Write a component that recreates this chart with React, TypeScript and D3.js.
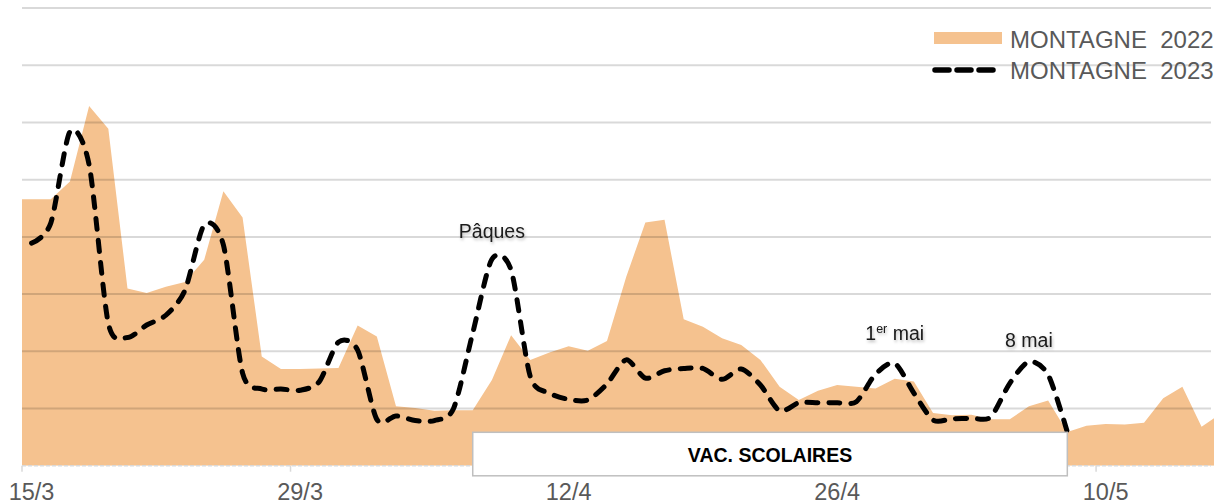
// App.tsx > MontagneChart

// react
import React, { useEffect, useRef } from 'react';

// modules
import * as d3 from 'd3';

// data
const montagne2022 = [
    46.6, 46.6, 49.7, 62.9, 58.9, 31.0, 30.2, 31.3, 32.1, 36.0,
    48.0, 43.4, 19.1, 16.9, 16.9, 17.0, 17.1, 24.5, 22.6, 10.4,
    10.1, 9.6, 9.7, 9.7, 15.0, 22.8, 18.5, 19.8, 20.9, 20.1,
    21.8, 33.0, 42.5, 43.0, 25.6, 24.3, 22.3, 21.1, 18.5, 13.8,
    11.5, 13.1, 14.1, 13.8, 13.5, 15.2, 14.7, 9.2, 8.8, 8.9,
    8.1, 8.1, 10.4, 11.4, 5.9, 7.0, 7.3, 7.2, 7.5, 11.8,
    13.8, 6.8, 9.1,
];
const montagne2023 = [
    38.9, 42.4, 58.4, 52.6, 24.9, 22.4, 24.6, 26.3, 30.7, 42.1,
    38.6, 16.2, 13.4, 13.4, 13.2, 14.7, 21.6, 20.2, 8.1, 8.7,
    7.9, 7.9, 10.0, 23.2, 36.1, 34.2, 15.6, 12.7, 11.6, 11.5,
    14.3, 18.5, 15.3, 16.6, 17.0, 17.0, 15.1, 16.9, 14.1, 9.6,
    11.0, 11.0, 11.0, 11.2, 16.0, 17.9, 12.7, 8.0, 8.2, 8.3,
    8.5, 14.4, 18.2, 15.9, 5.9,
];
const tickLabels = ['15/3', '29/3', '12/4', '26/4', '10/5'];
const gridValues = [10, 20, 30, 40, 50, 60, 70, 80];
const legendLabels = ['MONTAGNE  2022', 'MONTAGNE  2023'];
const vacation = { start: '7/4', end: '8/5', label: 'VAC. SCOLAIRES' };
const notes = [
    { day: '8/4', main: 'Pâques', sup: '', rest: '', dy: -21 },
    { day: '29/4', main: '1', sup: 'er', rest: ' mai', dy: -23 },
    { day: '6/5', main: '8 mai', sup: '', rest: '', dy: -15 },
];

// categories (one per day)
const fmt = d3.timeFormat('%-d/%-m');
const days = d3.timeDay.range(new Date(2023, 2, 15), new Date(2023, 4, 17)).map((d) => fmt(d));

const font = '"Liberation Sans", Arial, sans-serif';

export default function App() {
    const ref = useRef<SVGSVGElement | null>(null);

    const svgWidth = 1214;
    const svgHeight = 503;
    const left = 22;
    const right = 1211;
    const baseY = 465.7;
    const topY = 8.1;

    useEffect(() => {
        const svg = d3.select(ref.current);
        svg.selectAll('*').remove();

        const xScale = d3.scaleBand<string>()
            .domain(days)
            .range([left, left + 19.18 * days.length])
            .padding(0);
        const cx = (d: string) => (xScale(d) as number) + xScale.bandwidth() / 2;
        const yScale = d3.scaleLinear().domain([0, 80]).range([baseY, topY]);

        const defs = svg.append('defs');
        defs.append('clipPath').attr('id', 'plotClip')
            .append('rect')
            .attr('x', left).attr('y', 0)
            .attr('width', svgWidth - left).attr('height', baseY);
        const shadow = defs.append('filter').attr('id', 'txtShadow')
            .attr('x', '-20%').attr('y', '-40%').attr('width', '140%').attr('height', '180%');
        shadow.append('feDropShadow')
            .attr('dx', 1).attr('dy', 2).attr('stdDeviation', 1.8)
            .attr('flood-color', '#000').attr('flood-opacity', 0.28);

        // area 2022 (stretched to the plot edges)
        const areaPts: [number, number][] = [
            [left, montagne2022[0]],
            ...montagne2022.map((v, i) => [cx(days[i]), v] as [number, number]),
        ];
        const area = d3.area<[number, number]>()
            .x((d) => d[0])
            .y0(baseY)
            .y1((d) => yScale(d[1]));
        svg.append('path')
            .attr('clip-path', 'url(#plotClip)')
            .attr('d', area(areaPts))
            .attr('fill', '#F5C28F');

        // grid
        svg.append('g').selectAll('line')
            .data(gridValues)
            .enter()
            .append('line')
            .attr('x1', left).attr('x2', right)
            .attr('y1', (d) => yScale(d)).attr('y2', (d) => yScale(d))
            .attr('stroke', 'rgba(0,0,0,0.15)')
            .attr('stroke-width', 2);

        // axis
        svg.append('line')
            .attr('x1', left).attr('x2', right)
            .attr('y1', baseY).attr('y2', baseY)
            .attr('stroke', '#d9d9d9')
            .attr('stroke-width', 1.5)
            .attr('stroke-dasharray', '4 2');
        svg.append('g').selectAll('line')
            .data(tickLabels)
            .enter()
            .append('line')
            .attr('x1', (d) => xScale(d) as number).attr('x2', (d) => xScale(d) as number)
            .attr('y1', baseY).attr('y2', baseY + 6)
            .attr('stroke', '#d9d9d9')
            .attr('stroke-width', 1.5);
        svg.append('g').selectAll('text')
            .data(tickLabels)
            .enter()
            .append('text')
            .attr('x', (d) => cx(d))
            .attr('y', 500)
            .attr('text-anchor', 'middle')
            .attr('font-family', font)
            .attr('font-size', 23.5)
            .attr('fill', '#595959')
            .text((d) => d);

        // line 2023
        const line = d3.line<number>()
            .x((d, i) => cx(days[i]))
            .y((d) => yScale(d))
            .curve(d3.curveCardinal.tension(0.2));
        svg.append('path')
            .attr('d', line(montagne2023))
            .attr('fill', 'none')
            .attr('stroke', '#000')
            .attr('stroke-width', 5)
            .attr('stroke-linecap', 'round')
            .attr('stroke-dasharray', '11 11');

        // vacation box
        const bx0 = cx(vacation.start);
        const bx1 = cx(vacation.end);
        svg.append('rect')
            .attr('x', bx0).attr('y', 432.3)
            .attr('width', bx1 - bx0).attr('height', 43.5)
            .attr('fill', '#fff')
            .attr('stroke', '#bfbfbf')
            .attr('stroke-width', 1.5);
        svg.append('text')
            .attr('x', (bx0 + bx1) / 2)
            .attr('y', 461.5)
            .attr('text-anchor', 'middle')
            .attr('font-family', font)
            .attr('font-size', 19.5)
            .attr('font-weight', 'bold')
            .attr('fill', '#000')
            .text(vacation.label);

        // annotations
        notes.forEach((n) => {
            const i = days.indexOf(n.day);
            const t = svg.append('text')
                .attr('x', cx(n.day))
                .attr('y', yScale(montagne2023[i]) + n.dy)
                .attr('text-anchor', 'middle')
                .attr('font-family', font)
                .attr('font-size', 19.5)
                .attr('fill', '#1a1a1a')
                .attr('filter', 'url(#txtShadow)');
            t.append('tspan').text(n.main);
            if (n.sup) {
                t.append('tspan').attr('font-size', 12.5).attr('dy', -7).text(n.sup);
                t.append('tspan').attr('dy', 7).text(n.rest);
            }
        });

        // legend
        const lg = svg.append('g');
        lg.append('rect')
            .attr('x', 934).attr('y', 32)
            .attr('width', 68).attr('height', 12)
            .attr('fill', '#F5C28F');
        lg.append('line')
            .attr('x1', 935).attr('x2', 998)
            .attr('y1', 70).attr('y2', 70)
            .attr('stroke', '#000')
            .attr('stroke-width', 5.5)
            .attr('stroke-linecap', 'round')
            .attr('stroke-dasharray', '14 8');
        lg.selectAll('text')
            .data(legendLabels)
            .enter()
            .append('text')
            .attr('x', 1010)
            .attr('y', (d, i) => 47.5 + i * 31)
            .attr('font-family', font)
            .attr('font-size', 24)
            .attr('fill', '#595959')
            .attr('xml:space', 'preserve')
            .style('white-space', 'pre')
            .text((d) => d);
    }, []);

    return (
        <svg
            ref={ref}
            width={svgWidth}
            height={svgHeight}
            style={{ position: 'absolute', left: 0, top: 0, background: '#fff' }}
        />
    );
}
